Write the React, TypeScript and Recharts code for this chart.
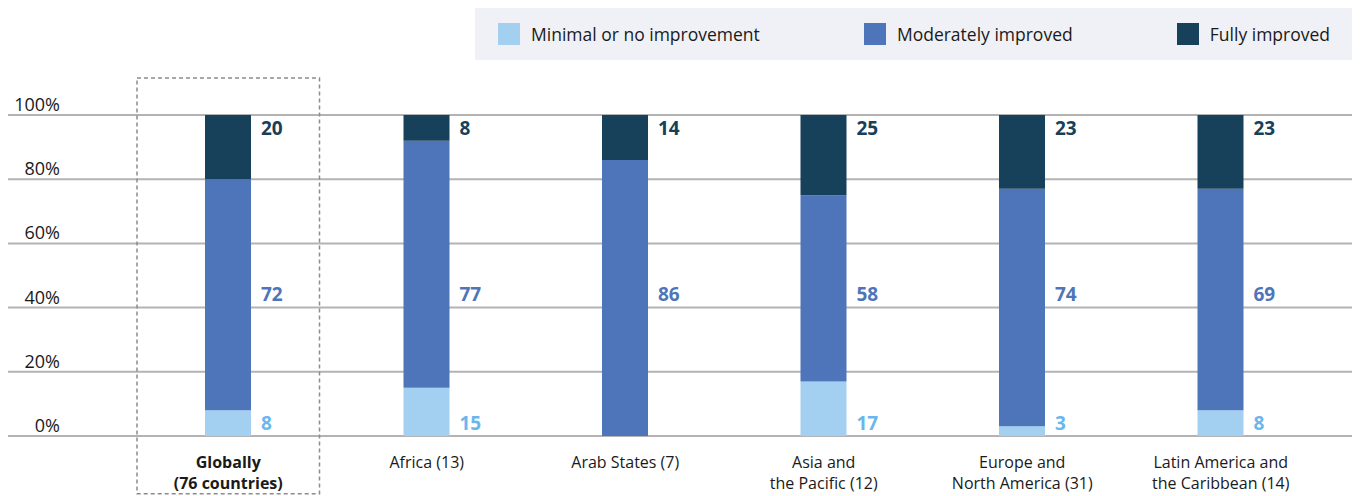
import React from 'react';
import {
  BarChart,
  Bar,
  XAxis,
  YAxis,
  CartesianGrid,
  LabelList,
  ReferenceArea,
} from 'recharts';

const categories = [
  'Globally\n(76 countries)',
  'Africa (13)',
  'Arab States (7)',
  'Asia and\nthe Pacific (12)',
  'Europe and\nNorth America (31)',
  'Latin America and\nthe Caribbean (14)',
];
const minimal = [8, 15, 0, 17, 3, 8];
const moderate = [72, 77, 86, 58, 74, 69];
const full = [20, 8, 14, 25, 23, 23];
const yTicks = [0, 20, 40, 60, 80, 100];

const series = [
  { key: 'minimal', name: 'Minimal or no improvement', color: '#a3cff1', text: '#6bb6ec' },
  { key: 'moderate', name: 'Moderately improved', color: '#4e75b9', text: '#4e75b9' },
  { key: 'full', name: 'Fully improved', color: '#17405a', text: '#17405a' },
];

const data = categories.map((name, i) => ({
  name,
  minimal: minimal[i],
  moderate: moderate[i],
  full: full[i],
}));

const FONT = '"Open Sans", sans-serif';

function geom(p: any) {
  const vb = p.viewBox ?? {};
  return {
    x: p.x ?? vb.x,
    y: p.y ?? vb.y,
    width: p.width ?? vb.width,
    height: p.height ?? vb.height,
  };
}

const labelText = (x: number, y: number, v: any, color: string) => (
  <text
    x={x}
    y={y}
    fill={color}
    fontFamily={FONT}
    fontWeight={700}
    fontSize={19}
    dominantBaseline="central"
  >
    {v}
  </text>
);

const MinimalLabel = (p: any) => {
  if (!p.value) return null;
  const g = geom(p);
  return labelText(g.x + g.width + 10, g.y + g.height - 13, p.value, series[0].text);
};

const ModerateLabel = (p: any) => {
  const g = geom(p);
  const ppu = g.height / p.value;
  const base = g.y + g.height + minimal[p.index] * ppu;
  return labelText(g.x + g.width + 10, base - 44.2 * ppu, p.value, series[1].text);
};

const FullLabel = (p: any) => {
  const g = geom(p);
  return labelText(g.x + g.width + 10, g.y + 13, p.value, series[2].text);
};

const CategoryTick = (p: any) => {
  const lines = String(p.payload.value).split('\n');
  const bold = p.index === 0;
  return (
    <text
      x={p.x}
      y={p.y}
      textAnchor="middle"
      fill="#1a1a1a"
      fontFamily={FONT}
      fontSize={16}
      fontWeight={bold ? 700 : 400}
    >
      {lines.map((l, i) => (
        <tspan key={i} x={p.x} dy={i === 0 ? 24 : 21}>
          {l}
        </tspan>
      ))}
    </text>
  );
};

const PercentTick = (p: any) => (
  <text
    x={52}
    y={p.y - 11}
    textAnchor="end"
    fill="#1a1a1a"
    fontFamily={FONT}
    fontSize={18}
    dominantBaseline="central"
  >
    {p.payload.value}%
  </text>
);

const DashedBox = (p: any) => (
  <rect
    x={p.x + 8}
    y={p.y}
    width={p.width - 16}
    height={p.height}
    fill="none"
    stroke="#8c8c8c"
    strokeWidth={1.5}
    strokeDasharray="4 3"
  />
);

export default function App() {
  return (
    <div style={{ position: 'relative', width: 1352, height: 488 }}>
      <div
        style={{
          position: 'absolute',
          left: 467,
          top: 0,
          width: 885,
          height: 52,
          background: '#f0f1f6',
          display: 'flex',
          alignItems: 'center',
          justifyContent: 'space-between',
          padding: '0 30px 0 23px',
          boxSizing: 'border-box',
          fontFamily: FONT,
          fontSize: 17.5,
          color: '#1a1a1a',
        }}
      >
        {series.map((s) => (
          <div key={s.key} style={{ display: 'flex', alignItems: 'center' }}>
            <span
              style={{
                display: 'inline-block',
                width: 22,
                height: 22,
                background: s.color,
                marginRight: 11,
              }}
            />
            {s.name}
          </div>
        ))}
      </div>
      <BarChart
        width={1352}
        height={488}
        data={data}
        margin={{ top: 107, right: 0, bottom: 0, left: -10 }}
        barSize={46}
      >
        <CartesianGrid vertical={false} stroke="#b3b3b3" strokeWidth={2} />
        <XAxis
          dataKey="name"
          axisLine={false}
          tickLine={false}
          height={60}
          interval={0}
          padding={{ left: 121, right: 40 }}
          tick={<CategoryTick />}
        />
        <YAxis
          width={10}
          domain={[0, 100]}
          ticks={yTicks}
          interval={0}
          axisLine={false}
          tickLine={false}
          tick={<PercentTick />}
        />
        <ReferenceArea
          x1={categories[0]}
          x2={categories[0]}
          y1={-18}
          y2={111.5}
          ifOverflow="visible"
          shape={<DashedBox />}
        />
        <Bar dataKey="minimal" stackId="a" fill={series[0].color} isAnimationActive={false}>
          <LabelList dataKey="minimal" content={<MinimalLabel />} />
        </Bar>
        <Bar dataKey="moderate" stackId="a" fill={series[1].color} isAnimationActive={false}>
          <LabelList dataKey="moderate" content={<ModerateLabel />} />
        </Bar>
        <Bar dataKey="full" stackId="a" fill={series[2].color} isAnimationActive={false}>
          <LabelList dataKey="full" content={<FullLabel />} />
        </Bar>
      </BarChart>
    </div>
  );
}
